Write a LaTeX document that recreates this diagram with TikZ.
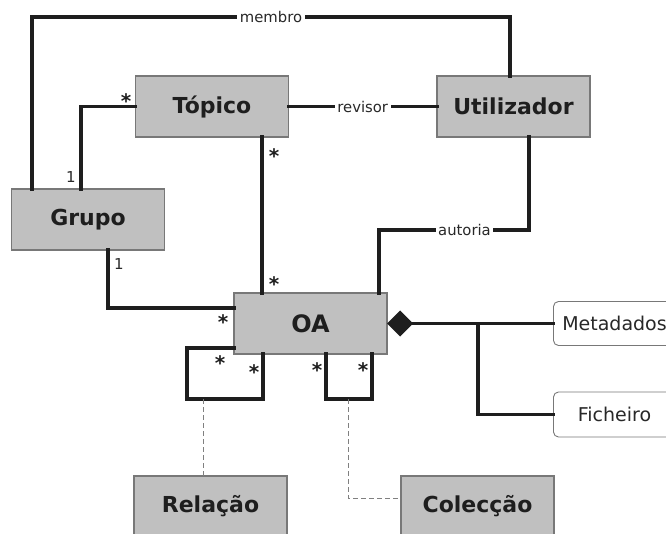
\documentclass[tikz,border=0pt]{standalone}
\usepackage{fontspec}
\setmainfont{DejaVu Sans}
\usetikzlibrary{shapes.geometric}
\definecolor{boxfill}{RGB}{192,192,192}
\definecolor{boxline}{RGB}{120,120,120}
\definecolor{ink}{RGB}{30,30,30}
\definecolor{txt}{RGB}{40,40,40}
\begin{document}
\begin{tikzpicture}[x=1pt,y=-1pt,
  cls/.style={draw=boxline, line width=1.3pt, fill=boxfill, minimum width=153pt, minimum height=61pt,
    inner sep=0pt, outer sep=0pt, text=ink, font=\fontsize{22}{26}\selectfont\bfseries},
  attr/.style={draw=boxline, line width=0.9pt, fill=white, rounded corners=5pt, minimum width=122pt,
    minimum height=45pt, inner sep=0pt, outer sep=0pt, text=txt, font=\fontsize{19}{23}\selectfont},
  conn/.style={draw=ink, line width=3.2pt, line cap=rect},
  dashline/.style={draw=gray, line width=1pt, dash pattern=on 5pt off 3pt},
  lab/.style={fill=white, inner sep=2.5pt, text=txt, font=\fontsize{14.8}{17}\selectfont},
  mult/.style={anchor=base, inner sep=0pt, text=ink, font=\fontsize{20}{24}\selectfont\bfseries},
  one/.style={inner sep=0pt, text=txt, font=\fontsize{15}{18}\selectfont},
  diam/.style={diamond, fill=ink, draw=none, minimum width=26pt, minimum height=26pt, inner sep=0pt, outer sep=0pt}]
\useasboundingbox (0,0) rectangle (666,534);
\clip (0,0) rectangle (666,534);
% classes
\node[cls] (topico) at (212,106.5) {Tópico};
\node[cls] (util) at (513.5,106.5) {Utilizador};
\node[cls] (grupo) at (88,219.5) {Grupo};
\node[cls, font=\fontsize{24}{28}\selectfont\bfseries] (oa) at (310.5,323.5) {OA};
\node[cls] (rel) at (210.5,506.5) {Relação};
\node[cls] (col) at (477.5,506.5) {Colecção};
\node[attr, minimum height=44pt] (meta) at (614.5,323.5) {Metadados};
\node[attr] (fich) at (614.5,414.5) {Ficheiro};
% bend points
\coordinate (m1) at (32,17);
\coordinate (m2) at (510,17);
\coordinate (tg) at (81,106.5);
\coordinate (to) at (262,0);
\coordinate (go) at (108,308);
\coordinate (a1) at (529,230);
\coordinate (a2) at (379,230);
\coordinate (l1) at (187,348);
\coordinate (l2) at (187,399);
\coordinate (l3) at (263,399);
\coordinate (r1) at (326,399);
\coordinate (r2) at (372,399);
\coordinate (d1) at (203,399);
\coordinate (d2) at (348,399);
\coordinate (d3) at (348,498);
\coordinate (br) at (478,323.5);
% connectors
\draw[conn] (grupo.north -| m1) -- (m1) -- node[lab]{membro} (m2) -- (util.north -| m2);
\draw[conn] (topico.west) -- (tg) -- (grupo.north -| tg);
\draw[conn] (topico.east) -- node[lab]{revisor} (util.west);
\draw[conn] (topico.south -| to) -- (oa.north -| to);
\draw[conn] (grupo.south -| go) -- (go) -- (oa.west |- go);
\draw[conn] (util.south -| a1) -- (a1) -- node[lab, pos=0.43]{autoria} (a2) -- (oa.north -| a2);
\draw[conn] (oa.west |- l1) -- (l1) -- (l2) -- (l3) -- (oa.south -| l3);
\draw[conn] (oa.south -| r1) -- (r1) -- (r2) -- (oa.south -| r2);
\draw[dashline] (d1) -- (rel.north -| d1);
\draw[dashline] (d2) -- (d3) -- (col.west |- d3);
\node[diam, anchor=west] (dia) at (oa.east) {};
\draw[conn] (dia.east) -- (meta.west);
\draw[conn] (br) -- (br |- fich.west) -- (fich.west);
% multiplicities
\node[mult] (s1) at (126,108.5) {*};
\node[mult] (s2) at (274,163.5) {*};
\node[mult] (s3) at (274,291.5) {*};
\node[mult] (s4) at (223,329.5) {*};
\node[mult] (s5) at (220,370.5) {*};
\node[mult] (s6) at (254,379.5) {*};
\node[mult] (s7) at (317,377.5) {*};
\node[mult] (s8) at (363,377.5) {*};
\node[one] (o1) at (71,177) {1};
\node[one] (o2) at (119,264) {1};
\end{tikzpicture}
\end{document}
